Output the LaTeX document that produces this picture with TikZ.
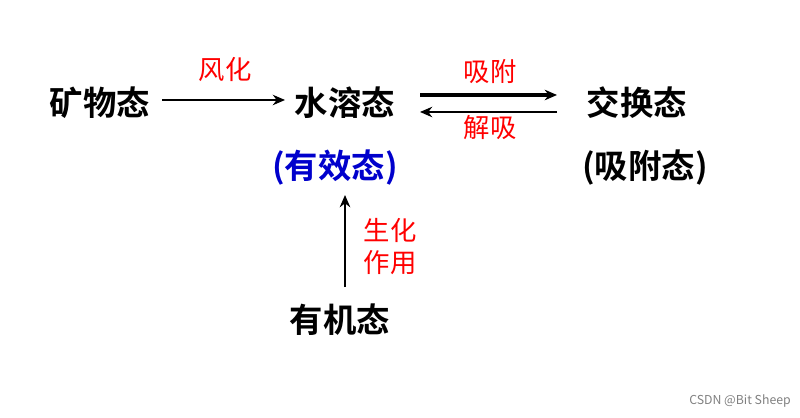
\documentclass[tikz,border=0pt]{standalone}
\usepackage{fontspec}
\newfontfamily\cjk{Noto Sans CJK SC}
\newfontfamily\cjkb{Noto Sans CJK SC Bold}
\usetikzlibrary{arrows.meta}
\tikzset{
    state/.style = {font=\cjkb\fontsize{19}{22}\selectfont, inner sep=1pt},
    lbl/.style = {font=\cjk\fontsize{15}{18}\selectfont, text=red, inner sep=1pt},
    flow/.style = {-{Stealth[length=7pt,width=6pt]}, line width=0.8pt}
}
\begin{document}
\begin{tikzpicture}[x=0.02cm, y=-0.02cm]
        \useasboundingbox (0,0) rectangle (800,418);

        % states
        \node [state] (mineral) at (100,103) {矿物态};
        \node [state] (water) at (345,103) {水溶态};
        \node [state] (exchange) at (637,103) {交换态};
        \node [state, text=blue!80!black] (valid) at (335,168) {(有效态)};
        \node [state] (adsorbed) at (645,168) {(吸附态)};
        \node [state] (organic) at (340,320) {有机态};

        % arrows
        \draw [flow] (162,100) coordinate (m1) -- (285,100) coordinate (w1);
        \draw [flow, line width=2pt] (420,95) coordinate (a1) -- (557,95) coordinate (a2);
        \draw [flow] (a2 |- 0,112) coordinate (b1) -- (a1 |- 0,112) coordinate (b2);
        \draw [flow, line width=1.3pt] (345,287) coordinate (o1) -- (345,195) coordinate (v1);

        % labels
        \node [lbl] (weather) at (225,70) {风化};
        \node [lbl] (adsorb) at (490,72) {吸附};
        \node [lbl] (desorb) at (490,128) {解吸};
        \node [lbl] (bio1) at (390,230) {生化};
        \node [lbl] (bio2) at (390,263) {作用};

        \node [font=\cjk\fontsize{7}{8}\selectfont, text=gray] (mark) at (740,401) {CSDN @Bit Sheep};
\end{tikzpicture}
\end{document}
